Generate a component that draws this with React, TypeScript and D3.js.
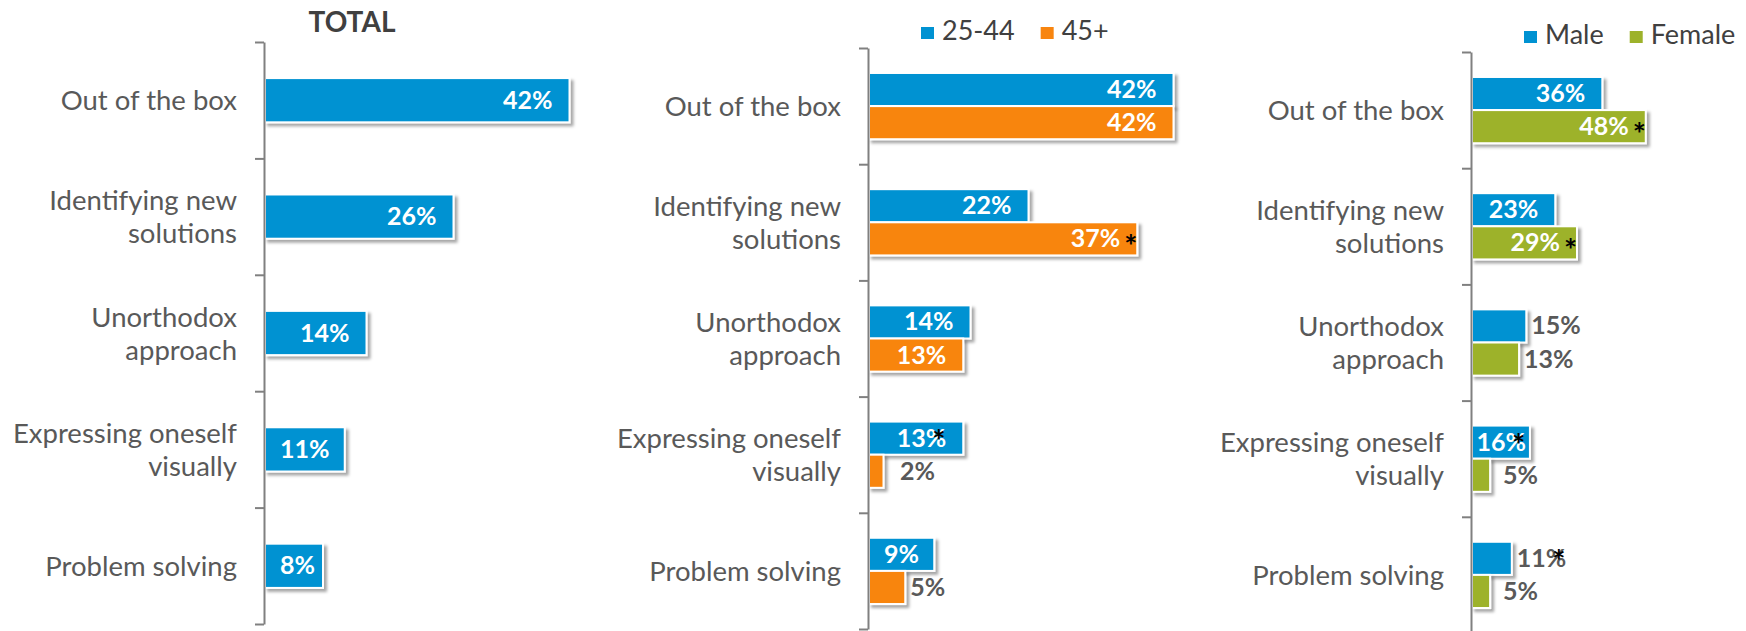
import React, { useEffect, useRef } from 'react';
import * as d3 from 'd3';

// chart data
const categories = [
  'Out of the box',
  'Identifying new\nsolutions',
  'Unorthodox\napproach',
  'Expressing oneself\nvisually',
  'Problem solving',
];

const totalValues = [42, 26, 14, 11, 8];

const ageSeries = ['25-44', '45+'];
const age2544Values = [42, 22, 14, 13, 9];
const age45Values = [42, 37, 13, 2, 5];
const age2544Sig = [false, false, false, true, false];
const age45Sig = [false, true, false, false, false];

const genderSeries = ['Male', 'Female'];
const maleValues = [36, 23, 15, 16, 11];
const femaleValues = [48, 29, 13, 5, 5];
const maleSig = [false, false, false, true, true];
const femaleSig = [true, true, false, false, false];

const W = 1746;
const H = 631;
const FONT = 'Lato, "Open Sans", sans-serif';
const BLUE = '#0092d2';
const ORANGE = '#f8850f';
const GREEN = '#9db22a';

type Series = { name: string; values: number[]; sig: boolean[]; color: string };
type Panel = {
  axisX: number;
  top: number;
  bottom: number;
  pxPerPct: number;
  padding: number;
  series: Series[];
  title?: string;
  legend?: boolean;
};

function drawPanel(svg: any, p: Panel) {
  const g = svg.append('g');

  const x = d3.scaleLinear().domain([0, 50]).range([p.axisX + 1, p.axisX + 1 + 50 * p.pxPerPct]);
  const y = d3.scaleBand<string>()
    .domain(categories)
    .range([p.top, p.bottom])
    .paddingInner(p.padding)
    .paddingOuter(p.padding / 2);
  const inner = d3.scaleBand<string>()
    .domain(p.series.map(s => s.name))
    .range([0, y.bandwidth()]);

  // bars
  p.series.forEach(s => {
    g.append('g')
      .selectAll('rect')
      .data(s.values)
      .enter()
      .append('rect')
      .attr('x', x(0))
      .attr('y', (d: number, i: number) => (y(categories[i]) as number) + (inner(s.name) as number))
      .attr('width', (d: number) => x(d) - x(0))
      .attr('height', inner.bandwidth())
      .attr('fill', s.color)
      .attr('stroke', '#fff')
      .attr('stroke-width', 2)
      .attr('filter', 'url(#shadow)');
  });

  // value labels (+ significance asterisks)
  p.series.forEach(s => {
    s.values.forEach((v, i) => {
      const barEnd = x(v);
      const barW = barEnd - x(0);
      const cy = (y(categories[i]) as number) + (inner(s.name) as number) + inner.bandwidth() / 2;
      const base = cy + 8.5;
      const t = g.append('text')
        .attr('font-family', FONT)
        .attr('font-size', 25)
        .attr('font-weight', 700)
        .attr('y', base)
        .text(v + '%');
      const w = (t.node() as SVGTextElement).getComputedTextLength();
      const inside = barW >= w + 8;
      let start;
      if (inside) {
        start = Math.max(barEnd - 17 - w, p.axisX + 16);
        start = Math.min(start, barEnd - 4 - w);
        t.attr('fill', '#fff');
      } else {
        start = Math.max(barEnd + 5, p.axisX + 32);
        t.attr('fill', '#595959');
      }
      t.attr('x', start);
      if (s.sig[i]) {
        const end = start + w;
        const after = inside && v >= 25;
        g.append('text')
          .attr('font-family', FONT)
          .attr('font-size', 31)
          .attr('font-weight', 700)
          .attr('fill', '#000')
          .attr('x', after ? end + 4 : end - 14)
          .attr('y', after ? base + 9.5 : base + 5)
          .text('*');
      }
    });
  });

  // axis with ticks between categories
  const tickScale = d3.scaleLinear().domain([0, categories.length]).range([p.top, p.bottom]);
  const axis = d3.axisLeft(tickScale)
    .tickValues(d3.range(0, categories.length + 1))
    .tickSize(9)
    .tickSizeOuter(0)
    .tickFormat(() => '');
  const ag = g.append('g').attr('transform', 'translate(' + p.axisX + ',0)');
  axis(ag);
  ag.selectAll('path').attr('stroke', '#808080').attr('stroke-width', 2);
  ag.selectAll('line').attr('stroke', '#808080').attr('stroke-width', 2);

  // category labels
  categories.forEach(c => {
    const lines = c.split('\n');
    const cy = (y(c) as number) + y.bandwidth() / 2;
    const t = g.append('text')
      .attr('font-family', FONT)
      .attr('font-size', 27.5)
      .attr('fill', '#595959')
      .attr('text-anchor', 'end');
    lines.forEach((ln, k) => {
      t.append('tspan')
        .attr('x', p.axisX - 27)
        .attr('y', cy + 10 - ((lines.length - 1) * 33) / 2 + k * 33)
        .text(ln);
    });
  });

  if (p.title) {
    g.append('text')
      .attr('font-family', FONT)
      .attr('font-size', 28)
      .attr('font-weight', 700)
      .attr('fill', '#404040')
      .attr('text-anchor', 'middle')
      .attr('x', p.axisX + 88)
      .attr('y', p.top - 10)
      .text(p.title);
  }

  if (p.legend) {
    let lx = p.axisX + 53;
    const base = p.top - 8;
    p.series.forEach(s => {
      g.append('rect')
        .attr('x', lx)
        .attr('y', base - 13)
        .attr('width', 13)
        .attr('height', 12)
        .attr('fill', s.color);
      const t = g.append('text')
        .attr('font-family', FONT)
        .attr('font-size', 27)
        .attr('fill', '#404040')
        .attr('x', lx + 21)
        .attr('y', base)
        .text(s.name);
      lx += 21 + (t.node() as SVGTextElement).getComputedTextLength() + 26;
    });
  }
}

export default function App() {
  const ref = useRef<SVGSVGElement>(null);

  useEffect(() => {
    document.body.style.margin = '0';
    const svg = d3.select(ref.current);
    svg.selectAll('*').remove();

    const f = svg.append('defs').append('filter')
      .attr('id', 'shadow')
      .attr('x', '-50%').attr('y', '-50%')
      .attr('width', '200%').attr('height', '200%');
    f.append('feDropShadow')
      .attr('dx', 3).attr('dy', 3)
      .attr('stdDeviation', 1.8)
      .attr('flood-color', '#000')
      .attr('flood-opacity', 0.35);

    drawPanel(svg, {
      axisX: 264, top: 42, bottom: 624, pxPerPct: 7.25, padding: 0.62,
      series: [{ name: 'Total', values: totalValues, sig: totalValues.map(() => false), color: BLUE }],
      title: 'TOTAL',
    });
    drawPanel(svg, {
      axisX: 868, top: 48, bottom: 629, pxPerPct: 7.25, padding: 0.43,
      series: [
        { name: ageSeries[0], values: age2544Values, sig: age2544Sig, color: BLUE },
        { name: ageSeries[1], values: age45Values, sig: age45Sig, color: ORANGE },
      ],
      legend: true,
    });
    drawPanel(svg, {
      axisX: 1471, top: 52, bottom: 633, pxPerPct: 3.62, padding: 0.43,
      series: [
        { name: genderSeries[0], values: maleValues, sig: maleSig, color: BLUE },
        { name: genderSeries[1], values: femaleValues, sig: femaleSig, color: GREEN },
      ],
      legend: true,
    });
  }, []);

  return (
    <svg ref={ref} width={W} height={H} style={{ display: 'block', background: '#fff' }} />
  );
}
